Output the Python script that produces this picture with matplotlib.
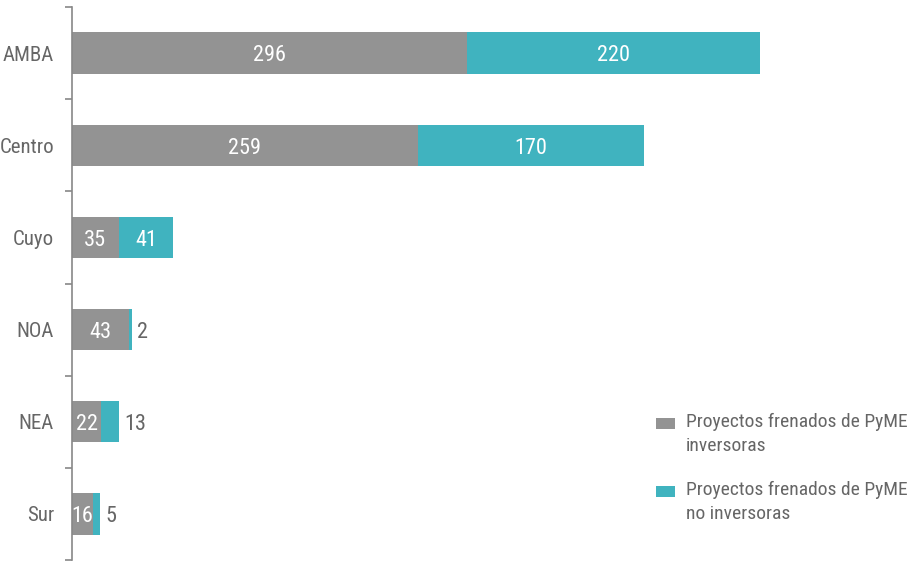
import matplotlib.pyplot as plt
import numpy as np
from matplotlib.patches import Rectangle
from matplotlib.container import BarContainer
from matplotlib.legend_handler import HandlerPatch, update_from_first_child

plt.rcParams['font.family'] = ['Roboto Condensed', 'Liberation Sans Narrow', 'Roboto', 'DejaVu Sans']

regiones = ['AMBA', 'Centro', 'Cuyo', 'NOA', 'NEA', 'Sur']
inversoras = [296, 259, 35, 43, 22, 16]
no_inversoras = [220, 170, 41, 2, 13, 5]
series_labels = ['Proyectos frenados de PyME\ninversoras',
                 'Proyectos frenados de PyME\nno inversoras']

gris = '#939393'
teal = '#40b3bf'
texto = '#666666'

fig = plt.figure(figsize=(9.1, 5.62), dpi=100)
ax = fig.add_axes([72 / 910, 2 / 562, 1 - 72 / 910, 1 - 9 / 562])

y = np.arange(len(regiones))
ax.barh(y, inversoras, height=0.45, color=gris, label=series_labels[0])
ax.barh(y, no_inversoras, height=0.45, left=inversoras, color=teal,
        label=series_labels[1])

for i in range(len(regiones)):
    a, b = inversoras[i], no_inversoras[i]
    ax.text(a / 2, y[i] + 0.03, str(a), ha='center', va='center', color='white', fontsize=16)
    if b >= 20:
        ax.text(a + b / 2, y[i] + 0.03, str(b), ha='center', va='center', color='white', fontsize=16)
    else:
        ax.text(a + b + 4, y[i] + 0.03, str(b), ha='left', va='center', color=texto, fontsize=16)

ax.set_xlim(0, 838 / 1.334)
ax.set_ylim(len(regiones) - 0.5, -0.5)

ax.set_yticks(np.arange(-0.5, len(regiones), 1.0))
ax.set_yticklabels([])
ax.set_yticks(y, minor=True)
ax.set_yticklabels(regiones, minor=True, fontsize=15, color=texto)
ax.tick_params(axis='y', which='major', length=5, width=1.2, color='#888888')
ax.tick_params(axis='y', which='minor', length=0, pad=13)
ax.set_xticks([])

for s in ['top', 'right', 'bottom']:
    ax.spines[s].set_visible(False)
ax.spines['left'].set_color('#888888')
ax.spines['left'].set_linewidth(1.2)


# legend square sits next to the first line of the two-line label
def top_square(legend, orig_handle, xdescent, ydescent, width, height, fontsize):
    h = 0.55 * fontsize
    return Rectangle((-xdescent, -ydescent + height - h - 0.02 * fontsize), width, h)


leg = ax.legend(loc='upper left', bbox_to_anchor=(578 / 838, 1 - 400 / 553),
                frameon=False, fontsize=14, handlelength=1.0, handleheight=2.3,
                handletextpad=0.55, labelspacing=1.3, borderaxespad=0, borderpad=0.3,
                handler_map={BarContainer: HandlerPatch(patch_func=top_square,
                                                        update_func=update_from_first_child)})
for t in leg.get_texts():
    t.set_color(texto)
    t.set_linespacing(1.45)

fig.savefig('out.png', dpi=100)
